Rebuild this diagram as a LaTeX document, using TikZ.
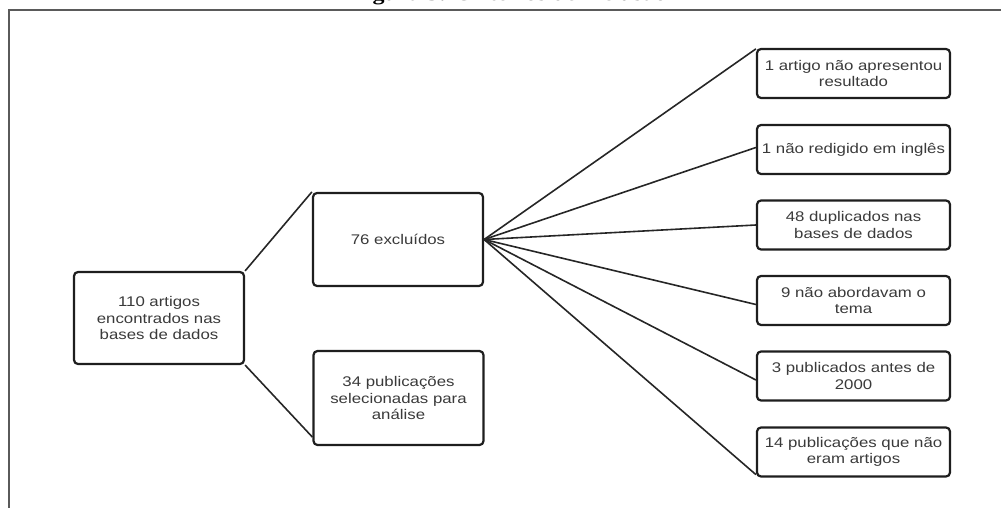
\documentclass[tikz,border=0pt]{standalone}
\usepackage{fontspec}
\newfontfamily\boxfont{Liberation Sans}[FakeStretch=1.2]
\newfontfamily\titlefont{Liberation Serif}[FakeStretch=1.2]
\definecolor{boxline}{HTML}{1E1E1E}
\definecolor{connline}{HTML}{262626}
\definecolor{boxtext}{HTML}{3A3A3A}
\definecolor{framecol}{HTML}{5A5A5A}
\begin{document}
\begin{tikzpicture}[x=1pt,y=1pt,
  box/.style={draw=boxline, line width=2.2pt, rounded corners=4pt, fill=white,
    align=center, font=\boxfont\fontsize{14}{16.5}\selectfont, text=boxtext, inner sep=0pt},
  bigbox/.style={box, minimum width=170pt, minimum height=93pt},
  smallbox/.style={box, minimum width=193pt, minimum height=49pt},
  conn/.style={draw=connline, line width=1.6pt},
  framestyle/.style={draw=framecol, line width=1.2pt}]
\useasboundingbox (0,0) rectangle (1001,-508);
% outer frame
\draw[framestyle] (1001,-10) -- (9,-10) -- (9,-508);
% clipped caption
\node[anchor=base west, inner sep=0pt, font=\titlefont\bfseries\fontsize{20}{24}\selectfont] (title) at (351,-1) {Figura 3: Critérios de inclusão};
% main boxes
\node[bigbox, minimum height=92pt] (A) at (159,-318) {110 artigos\\encontrados nas\\bases de dados};
\node[bigbox] (B) at (398,-239.5) {76 excluídos};
\node[bigbox, minimum height=94pt] (C) at (398.5,-398) {34 publicações\\selecionadas para\\análise};
% right boxes
\node[smallbox] (R1) at (853.5,-73.5) {1 artigo não apresentou\\resultado};
\node[smallbox] (R2) at (853.5,-149.5) {1 não redigido em inglês};
\node[smallbox] (R3) at (853.5,-225) {48 duplicados nas\\bases de dados};
\node[smallbox] (R4) at (853.5,-300.5) {9 não abordavam o\\tema};
\node[smallbox] (R5) at (853.5,-376) {3 publicados antes de\\2000};
\node[smallbox] (R6) at (853.5,-452) {14 publicações que não\\eram artigos};
% connectors
\draw[conn] (A.north east) -- (B.north west);
\draw[conn] (A.south east) -- ([yshift=9pt]C.south west);
\draw[conn] (B.east) -- ([yshift=-1pt]R1.north west);
\draw[conn] (B.east) -- ([yshift=2pt]R2.west);
\draw[conn] (B.east) -- (R3.west);
\draw[conn] (B.east) -- ([yshift=-4pt]R4.west);
\draw[conn] (B.east) -- ([yshift=-4pt]R5.west);
\draw[conn] (B.east) -- ([yshift=3pt]R6.south west);
\end{tikzpicture}
\end{document}
